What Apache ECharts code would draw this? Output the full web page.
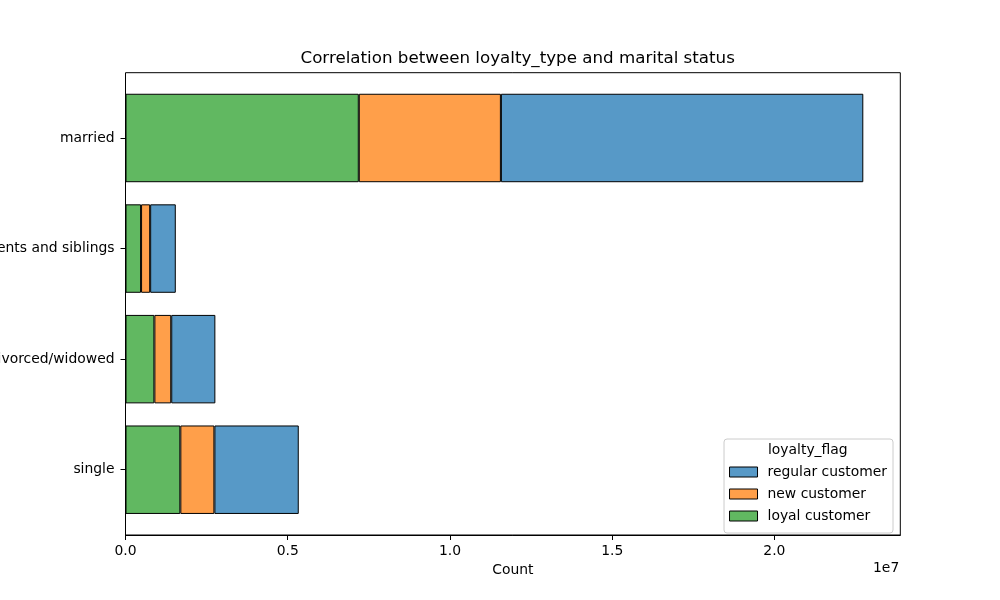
<!DOCTYPE html>
<html>
<head>
<meta charset="utf-8">
<script src="https://cdn.jsdelivr.net/npm/echarts@6/dist/echarts.min.js"></script>
<style>
  html, body { margin: 0; padding: 0; background: #fff; }
  #container1 { width: 1000px; height: 600px; }
</style>
</head>
<body>
<div id="container1"></div>
<script>
// categories top to bottom
var categories = ['married', 'living with parents and siblings', 'divorced/widowed', 'single'];
// counts per loyalty_flag (stacked left to right: loyal, new, regular)
var loyalCustomer = [7190000, 480000, 890000, 1690000];
var newCustomer = [4380000, 280000, 520000, 1050000];
var regularCustomer = [11170000, 790000, 1360000, 2600000];
var xTickStep = 5000000;
var xMax = 23880000;

var font = 'DejaVu Sans';
var myChart = echarts.init(document.getElementById('container1'));

var option = {
    backgroundColor: '#fff',
    animation: false,
    textStyle: { fontFamily: font },
    title: {
        text: 'Correlation between loyalty_type and marital status',
        left: 512.7,
        top: 45,
        textAlign: 'center',
        textStyle: { fontFamily: font, fontSize: 16.7, fontWeight: 'normal', color: '#000' }
    },
    grid: [
        // frame
        { left: 125.5, right: 99.7, top: 72.7, bottom: 65, containLabel: false, outerBoundsMode: 'none',
          show: true, borderColor: '#000', borderWidth: 1, backgroundColor: 'transparent' },
        // bars (category band inset like matplotlib margins)
        { left: 125.5, right: 99.7, top: 82.7, bottom: 75, containLabel: false, outerBoundsMode: 'none' }
    ],
    xAxis: [
        {
            gridIndex: 0,
            type: 'value',
            min: 0,
            max: xMax,
            interval: xTickStep,
            name: 'Count',
            nameLocation: 'middle',
            nameGap: 27,
            nameTextStyle: { fontFamily: font, fontSize: 13.9, color: '#000' },
            axisLine: { show: true, lineStyle: { color: '#000', width: 1 } },
            axisTick: { show: true, length: 5, lineStyle: { color: '#000' } },
            axisLabel: {
                margin: 9, fontFamily: font, fontSize: 13.9, color: '#000', showMaxLabel: false,
                formatter: function (v) { return (v / 1e7).toFixed(1); }
            },
            splitLine: { show: false }
        },
        {
            gridIndex: 1,
            type: 'value',
            min: 0,
            max: xMax,
            show: false
        }
    ],
    yAxis: [
        { gridIndex: 0, type: 'value', show: false, min: 0, max: 1 },
        {
            gridIndex: 1,
            type: 'category',
            data: categories,
            inverse: true,
            axisLine: { show: false },
            axisTick: { show: true, length: 5, alignWithLabel: true, lineStyle: { color: '#000' } },
            axisLabel: { margin: 11, fontFamily: font, fontSize: 13.9, color: '#000' }
        }
    ],
    legend: {
        orient: 'vertical',
        right: 107,
        bottom: 67,
        data: ['regular customer', 'new customer', 'loyal customer'],
        itemWidth: 28,
        itemHeight: 10,
        itemGap: 8,
        padding: [26, 6, 10, 5],
        backgroundColor: 'rgba(255,255,255,0.8)',
        borderColor: '#cccccc',
        borderWidth: 1,
        borderRadius: 3,
        icon: 'rect',
        itemStyle: { borderColor: '#000', borderWidth: 1 },
        textStyle: { fontFamily: font, fontSize: 13.9, color: '#000', lineHeight: 14, padding: [0, 0, 0, 5] }
    },
    graphic: [
        {
            type: 'text',
            left: 873,
            top: 561,
            style: { text: '1e7', font: '13.9px "DejaVu Sans"', fill: '#000' }
        },
        {
            type: 'text',
            left: 768,
            top: 443,
            z: 100,
            style: { text: 'loyalty_flag', font: '13.9px "DejaVu Sans"', fill: '#000' }
        }
    ],
    series: [
        {
            name: 'loyal customer',
            type: 'bar',
            stack: 'total',
            xAxisIndex: 1,
            yAxisIndex: 1,
            barWidth: '80%',
            data: loyalCustomer,
            itemStyle: { color: '#61b861', borderColor: '#000', borderWidth: 1 }
        },
        {
            name: 'new customer',
            type: 'bar',
            stack: 'total',
            xAxisIndex: 1,
            yAxisIndex: 1,
            data: newCustomer,
            itemStyle: { color: '#ff9f4a', borderColor: '#000', borderWidth: 1 }
        },
        {
            name: 'regular customer',
            type: 'bar',
            stack: 'total',
            xAxisIndex: 1,
            yAxisIndex: 1,
            data: regularCustomer,
            itemStyle: { color: '#5799c7', borderColor: '#000', borderWidth: 1 }
        }
    ]
};
myChart.setOption(option, true);
</script>
</body>
</html>
